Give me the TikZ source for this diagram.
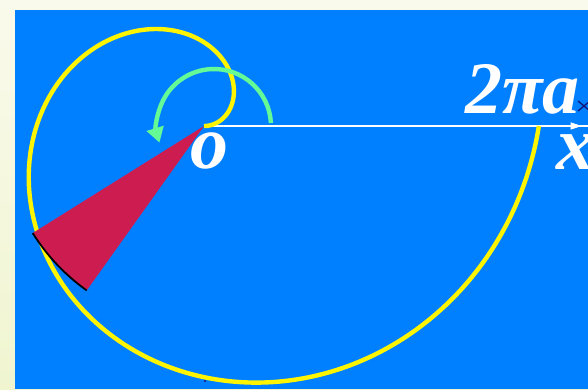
\documentclass[tikz,border=0pt]{standalone}
\usepackage{fontspec}
\setmainfont{Liberation Serif}
\usetikzlibrary{arrows.meta,calc}
\definecolor{bgblue}{RGB}{0,128,255}
\definecolor{creamtop}{RGB}{250,250,236}
\definecolor{creambot}{RGB}{240,245,208}
\definecolor{spiralyellow}{RGB}{255,245,0}
\definecolor{arcgreen}{RGB}{100,250,150}
\definecolor{sectorred}{RGB}{205,28,80}
\definecolor{navy}{RGB}{20,20,120}
\tikzset{
  spiral/.style={spiralyellow,line width=4.4pt,line join=round},
  sector/.style={fill=sectorred},
  arcline/.style={black,line width=1.8pt},
  turn/.style={arcgreen,line width=4.4pt,-{Triangle[length=15pt,width=17pt]}},
  axis/.style={white,line width=1.8pt},
  lab/.style={white,inner sep=0pt,font=\fontsize{76}{76}\selectfont\bfseries\itshape},
  biglab/.style={white,inner sep=0pt,font=\fontsize{74}{74}\selectfont\bfseries\itshape}
}
\begin{document}
\begin{tikzpicture}[x=1pt,y=1pt]
\useasboundingbox (0,0) rectangle (588,389);
\shade[top color=creamtop,bottom color=creambot] (0,0) rectangle (588,389);
\fill[bgblue] (15,0) rectangle (588,379);
\coordinate (O) at (204,263);
% x axis
\coordinate (xend) at (588,263);
\draw[axis] (O) -- (xend);
\coordinate (tick) at (576,263);
\draw[white,line width=1pt,fill=white] ([xshift=-5pt,yshift=3pt]tick) -- ([xshift=4pt]tick) -- ([xshift=-5pt,yshift=-3pt]tick) -- cycle;
% spiral r = a theta
\draw[spiral] plot[domain=0:360,samples=240,smooth] ({204+53.3*rad(\x)*cos(\x)},{263+53.3*rad(\x)*sin(\x)});
% sector
\fill[sector] (O) -- ([shift={(212:202)}]O) arc[start angle=212,end angle=234.5,radius=202] -- cycle;
\draw[arcline] ([shift={(212:202)}]O) arc[start angle=212,end angle=234.5,radius=202];
% green turning arrow
\coordinate (C) at (214,263);
\draw[turn] ([shift={(3:57)}]C) arc[start angle=3,end angle=197,radius=57];
% labels
\node[lab,anchor=base west] (o) at (190,221) {o};
\node[biglab,anchor=base west] (twopia) at (465,276) {2πa};
\node[lab,anchor=base west] (xlab) at (556,220) {x};
% small navy cross
\coordinate (cross) at (584,283);
\draw[navy,line width=1.3pt] ([shift={(-6,-5)}]cross) -- ([shift={(6,5)}]cross) ([shift={(-6,5)}]cross) -- ([shift={(6,-5)}]cross);
\coordinate (dot) at (205,8);
\fill[navy] (dot) circle (1.2);
\end{tikzpicture}
\end{document}
